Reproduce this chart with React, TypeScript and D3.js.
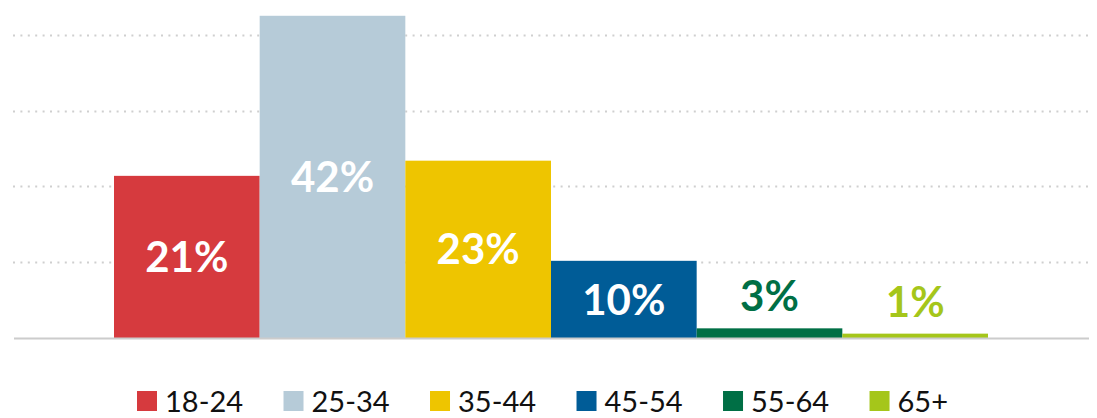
import React, { useEffect, useRef } from "react";
import * as d3 from "d3";

const categories = ["18-24", "25-34", "35-44", "45-54", "55-64", "65+"];
const values = [21.4, 42.5, 23.4, 10.2, 1.3, 0.6];
const labels = ["21%", "42%", "23%", "10%", "3%", "1%"];
const colors = ["#D63A3E", "#B6CBD8", "#EEC500", "#005C97", "#006F45", "#A5C61A"];
const gridTicks = [10, 20, 30, 40];

const W = 1097;
const H = 418;
const FONT = "Lato, 'Noto Sans', sans-serif";

export default function App() {
  const ref = useRef<SVGSVGElement>(null);

  useEffect(() => {
    const svg = d3.select(ref.current);
    svg.selectAll("*").remove();

    const x = d3.scaleBand<string>().domain(categories).range([114, 988]).padding(0);
    const y = d3.scaleLinear().domain([0, 44.58]).range([338.2, 0]);

    // gridlines
    svg
      .append("g")
      .selectAll("line")
      .data(gridTicks)
      .join("line")
      .attr("x1", 13)
      .attr("x2", 1091)
      .attr("y1", (d) => Math.round(y(d)) + 0.5)
      .attr("y2", (d) => Math.round(y(d)) + 0.5)
      .attr("stroke", "#cfcfcf")
      .attr("stroke-width", 2)
      .attr("stroke-dasharray", "2,5.4");

    // bars
    svg
      .append("g")
      .selectAll("rect")
      .data(values)
      .join("rect")
      .attr("x", (_, i) => x(categories[i])!)
      .attr("width", x.bandwidth())
      .attr("y", (d) => y(d))
      .attr("height", (d) => y(0) - y(d))
      .attr("fill", (_, i) => colors[i]);

    // baseline
    svg
      .append("line")
      .attr("x1", 14)
      .attr("x2", 1089)
      .attr("y1", 338.5)
      .attr("y2", 338.5)
      .attr("stroke", "#cccccc")
      .attr("stroke-width", 2);

    // value labels
    svg
      .append("g")
      .selectAll("text")
      .data(values)
      .join("text")
      .attr("x", (_, i) => x(categories[i])! + x.bandwidth() / 2)
      .attr("y", (d) => {
        const top = y(d);
        const h = y(0) - top;
        return h > 45 ? top + h / 2 + 15 : top - 17;
      })
      .attr("text-anchor", "middle")
      .attr("font-family", FONT)
      .attr("font-weight", 700)
      .attr("font-size", 42)
      .attr("fill", (d, i) => (y(0) - y(d) > 45 ? "#ffffff" : colors[i]))
      .text((_, i) => labels[i]);

    // legend
    const lg = svg.append("g");
    const items = lg.selectAll("g").data(categories).join("g");
    items
      .append("rect")
      .attr("width", 20)
      .attr("height", 20)
      .attr("y", 391)
      .attr("fill", (_, i) => colors[i]);
    items
      .append("text")
      .attr("x", 28)
      .attr("y", 411.5)
      .attr("font-family", FONT)
      .attr("font-size", 29)
      .attr("fill", "#111111")
      .text((d) => d);

    const widths: number[] = [];
    items.each(function () {
      const t = d3.select(this).select("text").node() as SVGTextElement;
      widths.push(28 + t.getComputedTextLength());
    });
    const left = 137;
    const right = 948;
    const gap = (right - left - d3.sum(widths)) / (widths.length - 1);
    let cx = left;
    items.attr("transform", (_, i) => {
      const t = `translate(${cx},0)`;
      cx += widths[i] + gap;
      return t;
    });
  }, []);

  return (
    <svg
      ref={ref}
      width={W}
      height={H}
      style={{ position: "absolute", left: 0, top: 0, display: "block", background: "#fff" }}
    />
  );
}
